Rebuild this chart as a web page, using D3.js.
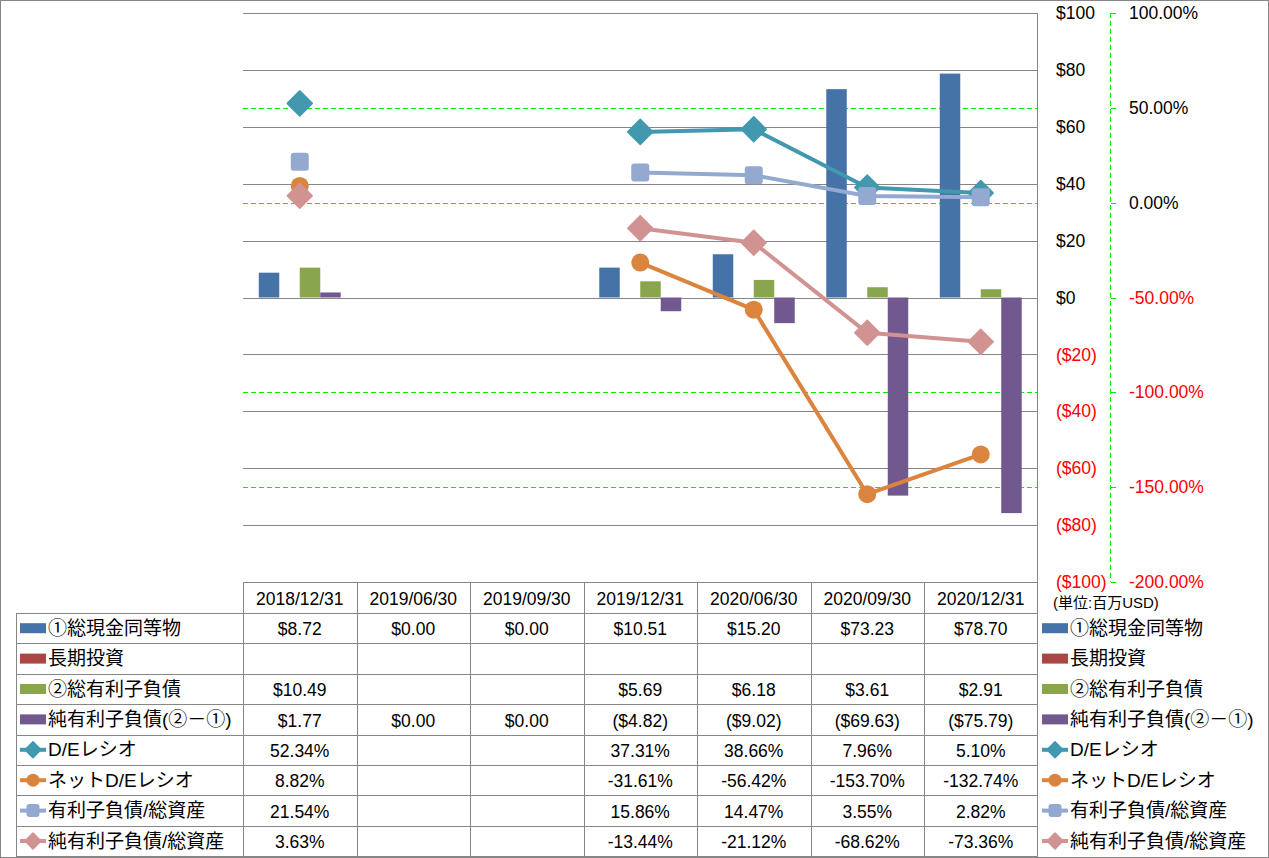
<!DOCTYPE html>
<html>
<head>
<meta charset="utf-8">
<script src="https://cdn.jsdelivr.net/npm/d3@7"></script>
<style>
  html, body { margin: 0; padding: 0; background: #fff; }
  svg { display: block; }
  text { font-family: "Liberation Sans", "Noto Sans CJK JP", sans-serif; }
  line.crisp { shape-rendering: crispEdges; }
</style>
</head>
<body>
<svg id="chart" width="1269" height="858"></svg>
<script>
// ---------- data ----------
const categories = ["2018/12/31", "2019/06/30", "2019/09/30", "2019/12/31", "2020/06/30", "2020/09/30", "2020/12/31"];
const cashValues = [8.72, 0, 0, 10.51, 15.20, 73.23, 78.70];
const longInvValues = [null, null, null, null, null, null, null];
const debtValues = [10.49, null, null, 5.69, 6.18, 3.61, 2.91];
const netDebtValues = [1.77, 0, 0, -4.82, -9.02, -69.63, -75.79];
const deRatio = [52.34, null, null, 37.31, 38.66, 7.96, 5.10];
const netDeRatio = [8.82, null, null, -31.61, -56.42, -153.70, -132.74];
const debtToAssets = [21.54, null, null, 15.86, 14.47, 3.55, 2.82];
const netDebtToAssets = [3.63, null, null, -13.44, -21.12, -68.62, -73.36];
const leftTicks = [100, 80, 60, 40, 20, 0, -20, -40, -60, -80, -100];
const rightTicks = [100, 50, 0, -50, -100, -150, -200];
const unitLabel = "(単位:百万USD)";

const barSeries = [
  { name: "①総現金同等物", values: cashValues, color: "#4572A7" },
  { name: "長期投資", values: longInvValues, color: "#AA4643" },
  { name: "②総有利子負債", values: debtValues, color: "#89A54E" },
  { name: "純有利子負債(②－①)", values: netDebtValues, color: "#71588F" }
];
const lineSeries = [
  { name: "D/Eレシオ", values: deRatio, color: "#4198AF", marker: "diamond" },
  { name: "ネットD/Eレシオ", values: netDeRatio, color: "#DB843D", marker: "circle" },
  { name: "有利子負債/総資産", values: debtToAssets, color: "#93A9CF", marker: "square" },
  { name: "純有利子負債/総資産", values: netDebtToAssets, color: "#D19392", marker: "diamond" }
];

// ---------- layout ----------
const svg = d3.select("#chart");
const X0 = 243, X1 = 1037.5, Y0 = 13, Y1 = 582;
const GRID = "#868686";
const GREEN = "#00f000";
const NUMFONT = "17.5px";
const JPFONT = "19px";

const x = d3.scaleBand().domain(categories).range([X0, X1]);
const xs = d3.scaleBand().domain(d3.range(barSeries.length)).range([0, x.bandwidth()]).paddingOuter(0.77);
const yL = d3.scaleLinear().domain([-100, 100]).range([Y1, Y0]);
const yR = d3.scaleLinear().domain([-200, 100]).range([Y1, Y0]);

const fix2 = v => (v < 0 ? "-" : "") + Math.abs(v).toFixed(2);

// outer border
svg.append("rect").attr("x", 0.5).attr("y", 0.5).attr("width", 1268).attr("height", 857)
  .attr("fill", "#fff").attr("stroke", GRID);

// secondary gridlines (green dashed)
svg.append("g").selectAll("line").data(rightTicks).join("line").attr("class", "crisp")
  .attr("x1", X0).attr("x2", X1)
  .attr("y1", d => Math.round(yR(d)) + 0.5).attr("y2", d => Math.round(yR(d)) + 0.5)
  .attr("stroke", GREEN).attr("stroke-dasharray", "5,3");

// primary gridlines
svg.append("g").selectAll("line").data(leftTicks).join("line").attr("class", "crisp")
  .attr("x1", X0).attr("x2", X1)
  .attr("y1", d => Math.round(yL(d)) + 0.5).attr("y2", d => Math.round(yL(d)) + 0.5)
  .attr("stroke", GRID);

// primary axis line (right of plot)
svg.append("line").attr("class", "crisp").attr("x1", X1).attr("x2", X1).attr("y1", Y0).attr("y2", 856.5).attr("stroke", GRID);

// left (primary) tick labels
svg.append("g").selectAll("text").data(leftTicks).join("text")
  .attr("x", 1056).attr("y", d => yL(d)).attr("dy", "0.35em")
  .attr("font-size", NUMFONT)
  .attr("fill", d => d < 0 ? "#ff0000" : "#000")
  .text(d => d < 0 ? "($" + Math.abs(d) + ")" : "$" + d);

// secondary axis
const RX = 1110.5;
svg.append("line").attr("class", "crisp").attr("x1", RX).attr("x2", RX).attr("y1", Y0).attr("y2", Y1)
  .attr("stroke", GREEN).attr("stroke-dasharray", "5,3");
svg.append("g").selectAll("line").data(rightTicks).join("line").attr("class", "crisp")
  .attr("x1", RX).attr("x2", RX + 5)
  .attr("y1", d => Math.round(yR(d)) + 0.5).attr("y2", d => Math.round(yR(d)) + 0.5)
  .attr("stroke", GREEN);
svg.append("g").selectAll("text").data(rightTicks).join("text")
  .attr("x", 1129).attr("y", d => yR(d)).attr("dy", "0.35em")
  .attr("font-size", NUMFONT)
  .attr("fill", d => d < 0 ? "#ff0000" : "#000")
  .text(d => fix2(d) + "%");

svg.append("text").attr("x", 1053).attr("y", 603).attr("dy", "0.35em")
  .attr("font-size", "15px").text(unitLabel);

// ---------- bars ----------
const barG = svg.append("g");
barSeries.forEach((s, si) => {
  barG.append("g").selectAll("rect")
    .data(s.values.map((v, i) => ({ v, c: categories[i] })).filter(d => d.v != null))
    .join("rect")
    .attr("x", d => x(d.c) + xs(si))
    .attr("width", xs.bandwidth())
    .attr("y", d => Math.min(yL(d.v), yL(0)))
    .attr("height", d => Math.abs(yL(d.v) - yL(0)))
    .attr("fill", s.color);
});

// ---------- lines ----------
function drawMarker(g, type, cx, cy, big, color) {
  if (type === "diamond") {
    const s = big ? 12.5 : 8;
    g.append("path").attr("d", `M0,${-s}L${s},0L0,${s}L${-s},0Z`).attr("transform", `translate(${cx},${cy})`)
      .attr("fill", color).attr("stroke", color).attr("stroke-linejoin", "round").attr("stroke-width", 1.5);
  } else if (type === "circle") {
    g.append("circle").attr("cx", cx).attr("cy", cy).attr("r", big ? 9 : 6.5).attr("fill", color);
  } else {
    const s = big ? 18 : 13;
    g.append("rect").attr("x", cx - s / 2).attr("y", cy - s / 2).attr("width", s).attr("height", s)
      .attr("rx", 3).attr("fill", color);
  }
}
const cx = c => x(c) + x.bandwidth() / 2;
const lineGen = d3.line().defined(d => d.v != null).x(d => cx(d.c)).y(d => yR(d.v));
lineSeries.forEach(s => {
  const pts = s.values.map((v, i) => ({ v, c: categories[i] }));
  const g = svg.append("g");
  g.append("path").attr("d", lineGen(pts)).attr("fill", "none")
    .attr("stroke", s.color).attr("stroke-width", 4).attr("stroke-linejoin", "round").attr("stroke-linecap", "round");
  pts.filter(d => d.v != null).forEach(d => drawMarker(g, s.marker, cx(d.c), yR(d.v), true, s.color));
});

// ---------- data table ----------
const TT = 582, HR = 31, RH = 30.4, TL = 16;
const rowCount = barSeries.length + lineSeries.length;
const rowY = i => TT + HR + i * RH;
const tableBottom = rowY(rowCount);
const tg = svg.append("g");
tg.append("line").attr("class", "crisp").attr("x1", X0).attr("x2", X1).attr("y1", TT + 0.5).attr("y2", TT + 0.5).attr("stroke", GRID);
d3.range(rowCount + 1).forEach(i => {
  const yy = Math.round(rowY(i)) + 0.5;
  tg.append("line").attr("class", "crisp").attr("x1", TL).attr("x2", X1).attr("y1", yy).attr("y2", yy).attr("stroke", GRID);
});
tg.append("line").attr("class", "crisp").attr("x1", TL + 0.5).attr("x2", TL + 0.5).attr("y1", rowY(0)).attr("y2", Math.round(tableBottom) + 0.5).attr("stroke", GRID);
categories.forEach(c => {
  const xx = Math.round(x(c)) + 0.5;
  tg.append("line").attr("class", "crisp").attr("x1", xx).attr("x2", xx).attr("y1", TT).attr("y2", Math.round(tableBottom) + 0.5).attr("stroke", GRID);
});
tg.selectAll("text.h").data(categories).join("text").attr("class", "h")
  .attr("x", cx).attr("y", TT + HR / 2 + 1).attr("dy", "0.35em").attr("text-anchor", "middle")
  .attr("font-size", NUMFONT).text(d => d);

const fmtMoney = v => v == null ? "" : (v < 0 ? "($" + (-v).toFixed(2) + ")" : "$" + v.toFixed(2));
const fmtPct = v => v == null ? "" : fix2(v) + "%";

const allRows = barSeries.map(s => ({ ...s, kind: "bar" })).concat(lineSeries.map(s => ({ ...s, kind: "line" })));

function drawKey(g, s, kx, cyy) {
  if (s.kind === "bar") {
    g.append("rect").attr("x", kx).attr("y", cyy - 5).attr("width", 26).attr("height", 10).attr("fill", s.color);
  } else {
    g.append("line").attr("x1", kx).attr("x2", kx + 26).attr("y1", cyy).attr("y2", cyy)
      .attr("stroke", s.color).attr("stroke-width", 4);
    drawMarker(g, s.marker, kx + 13, cyy, false, s.color);
  }
}

allRows.forEach((s, i) => {
  const cyy = rowY(i) + RH / 2;
  drawKey(tg, s, 20, cyy);
  tg.append("text").attr("x", 48).attr("y", cyy).attr("dy", "0.35em").attr("font-size", JPFONT).text(s.name);
  s.values.forEach((v, j) => {
    tg.append("text").attr("x", cx(categories[j])).attr("y", cyy + 1).attr("dy", "0.35em")
      .attr("text-anchor", "middle").attr("font-size", NUMFONT)
      .text(s.kind === "bar" ? fmtMoney(v) : fmtPct(v));
  });
  drawKey(svg, s, 1042, cyy);
  svg.append("text").attr("x", 1070).attr("y", cyy).attr("dy", "0.35em").attr("font-size", JPFONT).text(s.name);
});
</script>
</body>
</html>
